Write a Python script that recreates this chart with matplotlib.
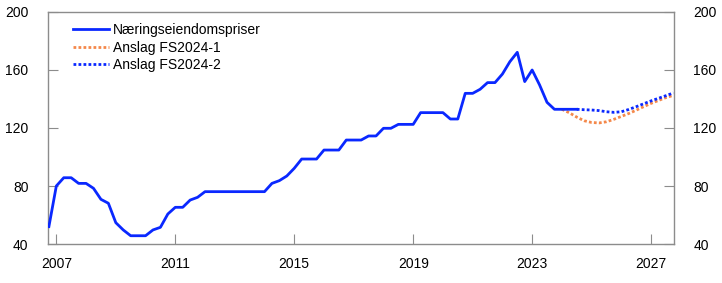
import matplotlib
matplotlib.use("Agg")
import matplotlib.pyplot as plt
import numpy as np

plt.rcParams['font.family'] = ['Liberation Sans', 'DejaVu Sans']

# Quarterly index values, first quarter 2006 Q4
start_actual = 2006.75
actual = [52, 80, 85.7, 85.7, 81.8, 81.8, 78.4, 70.8, 68.1, 54.7, 49.7, 45.7,
          45.7, 45.7, 49.7, 51.5, 60.7, 65.3, 65.3, 70.3, 72.2,
          76.1, 76.1, 76.1, 76.1, 76.1, 76.1, 76.1, 76.1, 76.1,
          81.8, 83.7, 86.9,
          92.2, 98.6, 98.6, 98.6,
          104.8, 104.8, 104.8, 111.7,
          111.7, 111.7, 114.5, 114.5,
          119.8, 119.8, 122.5, 122.5,
          122.5, 130.6, 130.6, 130.6,
          130.6, 126.2, 126.2, 143.9,
          143.9, 146.7, 151.3, 151.3,
          157.2, 165.7, 172.2, 152,
          160, 149.7, 137.7, 132.9,
          132.9, 132.9, 132.9]

# Forecast FS2024-1, from 2024 Q1
start_fs1 = 2024.0
fs1 = [132.9, 130.5, 127.5, 125, 123.8, 123.5, 124.3, 126, 128, 130, 132.3,
       134.7, 137, 139, 141, 142.5]

# Forecast FS2024-2, from 2024 Q3
start_fs2 = 2024.5
fs2 = [132.9, 132.6, 132.4, 132, 131.2, 130.8, 131.2, 132.8, 134.7, 136.7,
       138.7, 140.5, 142.3, 144.2]

labels = ['Næringseiendomspriser', 'Anslag FS2024-1', 'Anslag FS2024-2']
xticks = [2007, 2011, 2015, 2019, 2023, 2027]
yticks = [40, 80, 120, 160, 200]


def quarters(start, n):
    return start + 0.25 * np.arange(n)


blue = '#0a28ff'
orange = '#f4884a'

fig = plt.figure(figsize=(7.22, 2.83), dpi=100)
ax = fig.add_axes([48 / 722, 1 - 244 / 283, 626 / 722, 232 / 283])

ax.plot(quarters(start_actual, len(actual)), actual, color=blue, lw=2,
        label=labels[0], zorder=3)
ax.plot(quarters(start_fs1, len(fs1)), fs1, color=orange, lw=2,
        ls=(0, (1, 0.8)), label=labels[1], zorder=2)
ax.plot(quarters(start_fs2, len(fs2)), fs2, color=blue, lw=2,
        ls=(0, (1, 0.8)), label=labels[2], zorder=2)

ax.set_xlim(2006.72, 2027.77)
ax.set_ylim(40, 200)
ax.set_xticks(xticks)
ax.set_yticks(yticks)

for sp in ax.spines.values():
    sp.set_color('#8c8c8c')
    sp.set_linewidth(1)

ax.tick_params(axis='both', direction='in', length=7, width=0.8,
               color='#8c8c8c', labelsize=10, labelcolor='black')
ax.tick_params(axis='y', pad=14, right=True, labelright=True)
ax.tick_params(axis='x', pad=9)

ax.legend(loc='upper left', frameon=False, fontsize=10, handlelength=2.6,
          handletextpad=0.3, labelspacing=0.25, borderaxespad=0.4,
          bbox_to_anchor=(0.022, 1.0))

fig.savefig('out.png', dpi=100)
